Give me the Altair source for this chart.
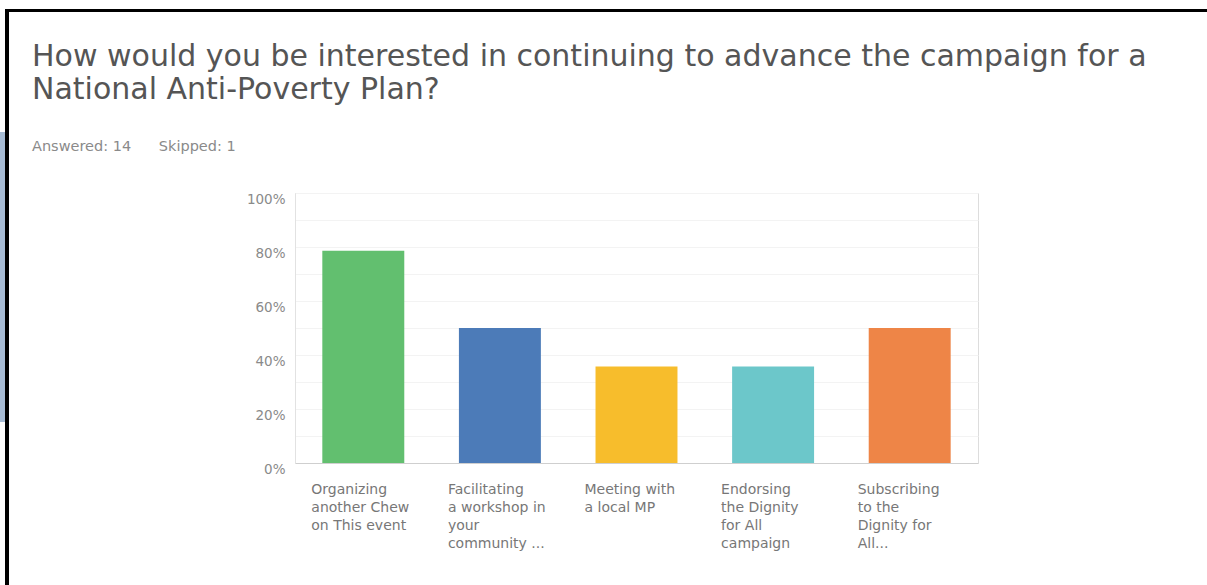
import altair as alt
import pandas as pd

# ---- data ----
categories = [
    "Organizing|another Chew|on This event",
    "Facilitating|a workshop in|your|community ...",
    "Meeting with|a local MP",
    "Endorsing|the Dignity|for All|campaign",
    "Subscribing|to the|Dignity for|All...",
]
shares = [11 / 14, 7 / 14, 5 / 14, 5 / 14, 7 / 14]
colors = ["#62bf6f", "#4c7bb8", "#f7bd2c", "#6cc7ca", "#ee8547"]
y_ticks = [0, 0.1, 0.2, 0.3, 0.4, 0.5, 0.6, 0.7, 0.8, 0.9, 1.0]

title_lines = [
    "How would you be interested in continuing to advance the campaign for a",
    "National Anti-Poverty Plan?",
]
subtitle = "Answered: 14\u00a0\u00a0\u00a0\u00a0\u00a0\u00a0Skipped: 1"

df = pd.DataFrame({"cat": categories, "share": shares, "color": colors})

FONT = "DejaVu Sans"

bars = alt.Chart(df).mark_bar().encode(
    x=alt.X(
        "cat:N",
        sort=categories,
        title=None,
        scale=alt.Scale(paddingInner=0.4, paddingOuter=0.2),
        axis=alt.Axis(
            labelAngle=0,
            labelAlign="left",
            labelBaseline="top",
            labelOffset=-52,
            labelPadding=19,
            labelExpr="split(datum.label, '|')",
            labelLineHeight=18,
            labelFontSize=14,
            labelColor="#777777",
            labelFont=FONT,
            ticks=False,
            domainColor="#cfcfcf",
            grid=False,
            labelLimit=200,
        ),
    ),
    y=alt.Y(
        "share:Q",
        title=None,
        scale=alt.Scale(domain=[0, 1], nice=False),
        axis=alt.Axis(
            values=y_ticks,
            labelExpr="round(datum.value*100) % 20 == 0 ? format(datum.value, '.0%') : ''",
            labelFontSize=13.5,
            labelColor="#8a8a8a",
            labelFont=FONT,
            labelPadding=10,
            labelOffset=6,
            ticks=False,
            domainColor="#e2e2e2",
            gridColor="#f3f3f3",
        ),
    ),
    color=alt.Color("color:N", scale=None, legend=None),
)

one = alt.Data(values=[{"k": 1}])
left_strip = alt.Chart(one).mark_rect(color="#a7bcd5").encode(
    x=alt.value(-295), x2=alt.value(-290), y=alt.value(-61), y2=alt.value(229)
)
left_bar = alt.Chart(one).mark_rect(color="#000000").encode(
    x=alt.value(-290), x2=alt.value(-286), y=alt.value(-184), y2=alt.value(392)
)
top_bar = alt.Chart(one).mark_rect(color="#000000").encode(
    x=alt.value(-290), x2=alt.value(912), y=alt.value(-184), y2=alt.value(-181)
)

chart = alt.layer(bars, left_strip, left_bar, top_bar).properties(
    width=683,
    height=270,
    autosize=alt.AutoSizeParams(type="none"),
    padding={"left": 295, "top": 193, "right": 229, "bottom": 122},
    title=alt.TitleParams(
        text=title_lines,
        subtitle=subtitle,
        anchor="start",
        frame="group",
        dx=-263,
        dy=148,
        font=FONT,
        fontSize=30,
        fontWeight="normal",
        color="#555555",
        lineHeight=33,
        subtitleFont=FONT,
        subtitleFontSize=14.5,
        subtitleColor="#8a8a8a",
        subtitlePadding=35,
    ),
).configure_view(strokeWidth=0, stroke="transparent").configure(background="#ffffff")

chart.save("out.html", embed_options={"renderer": "svg", "actions": False})
